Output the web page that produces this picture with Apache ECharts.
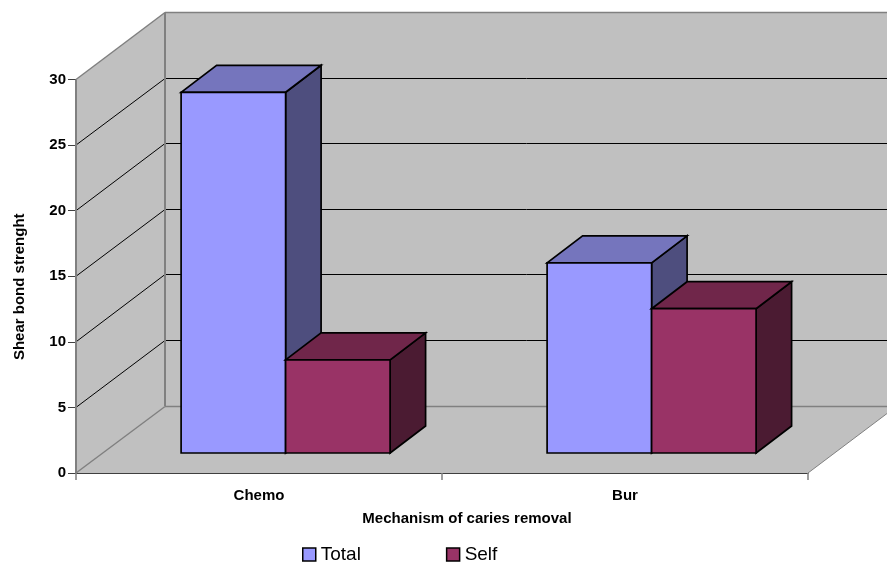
<!DOCTYPE html>
<html>
<head>
<meta charset="utf-8">
<style>html,body{margin:0;padding:0;background:#fff}#chart{width:887px;height:565px}</style>
<script src="https://cdn.jsdelivr.net/npm/echarts@6/dist/echarts.min.js"></script>
</head>
<body>
<div id="chart"></div>
<script>
// Shear bond strength by caries removal method
const categories = ['Chemo', 'Bur'];
const totalValues = [27.5, 14.5];
const selfValues = [7.1, 11];
const valueTicks = [0, 5, 10, 15, 20, 25, 30];

const FONT = '"Liberation Sans", Arial, sans-serif';
// Oblique projection of the 3D box, in pixels
const BOX_DX = 89, BOX_DY = -67;
const BAR_SHIFT_X = 26.6, BAR_SHIFT_Y = -20;
const BAR_DX = 35.5, BAR_DY = -27;
const BAR_BAND_RATIO = 0.2855;
const BAR_EDGE = 1.7;
const WALL = '#c0c0c0', WALL_EDGE = '#808080';

function poly(points, fill, stroke, width) {
  return { type: 'polygon', shape: { points },
    style: { fill, stroke, lineWidth: width, lineJoin: 'miter' } };
}
function seg(a, b, stroke, width) {
  return { type: 'line', shape: { x1: a[0], y1: a[1], x2: b[0], y2: b[1] },
    style: { stroke, lineWidth: width } };
}

// Side wall, back wall, floor and the gridlines that run across them
function renderBox(params, api) {
  const band = api.size([1, 0])[0];
  const x0 = api.coord([0, 0])[0] - band / 2;
  const x1 = x0 + band * categories.length;
  const y0 = api.coord([0, 0])[1];
  const yTop = api.coord([0, 30])[1];
  const kids = [
    poly([[x0, y0], [x0 + BOX_DX, y0 + BOX_DY], [x0 + BOX_DX, yTop + BOX_DY], [x0, yTop]], WALL),
    poly([[x0 + BOX_DX, y0 + BOX_DY], [x1 + BOX_DX, y0 + BOX_DY], [x1 + BOX_DX, yTop + BOX_DY], [x0 + BOX_DX, yTop + BOX_DY]], WALL),
    poly([[x0, y0], [x1, y0], [x1 + BOX_DX, y0 + BOX_DY], [x0 + BOX_DX, y0 + BOX_DY]], WALL)
  ];
  valueTicks.forEach(function (v) {
    const y = api.coord([0, v])[1];
    const edge = v === 0 || v === 30;
    const color = edge ? WALL_EDGE : '#000';
    const w = edge ? 1.5 : 1;
    // Snap the back-wall rule to the pixel grid so it stays one pixel thin
    const backY = Math.floor(y + BOX_DY) + 0.5;
    kids.push(seg([x0, y], [x0 + BOX_DX, backY], color, w));
    kids.push(seg([x0 + BOX_DX, backY], [x1 + BOX_DX, backY], color, w));
  });
  kids.push(seg([x0, y0], [x0, yTop], WALL_EDGE, 2));
  kids.push(seg([x0 + BOX_DX, y0 + BOX_DY], [x0 + BOX_DX, yTop + BOX_DY], WALL_EDGE, 2));
  kids.push(seg([x1, y0], [x1 + BOX_DX, y0 + BOX_DY], WALL_EDGE, 1));
  return { type: 'group', children: kids };
}

// One extruded bar: side and top faces behind, front face last
function barRenderer(side, colors) {
  return function (params, api) {
    const idx = api.value(0);
    const c = api.coord([idx, 0]);
    const top = api.coord([idx, api.value(1)])[1] + BAR_SHIFT_Y;
    const base = c[1] + BAR_SHIFT_Y;
    const w = api.size([1, 0])[0] * BAR_BAND_RATIO;
    const l = c[0] + BAR_SHIFT_X + (side < 0 ? -w : 0);
    const r = l + w;
    return { type: 'group', children: [
      poly([[r, base], [r + BAR_DX, base + BAR_DY], [r + BAR_DX, top + BAR_DY], [r, top]], colors.side, '#000', BAR_EDGE),
      poly([[l, top], [r, top], [r + BAR_DX, top + BAR_DY], [l + BAR_DX, top + BAR_DY]], colors.top, '#000', BAR_EDGE),
      poly([[l, base], [r, base], [r, top], [l, top]], colors.front, '#000', BAR_EDGE)
    ] };
  };
}
const totalColors = { front: '#9999ff', top: '#7575bd', side: '#4e4e7e' };
const selfColors = { front: '#993366', top: '#70264a', side: '#4b1b32' };

const chart = echarts.init(document.getElementById('chart'), null, { renderer: 'canvas' });
chart.setOption({
  animation: false,
  backgroundColor: '#fff',
  grid: { left: 76, top: 79.5, width: 732, height: 393.5 },
  legend: {
    left: 297, top: 540, itemWidth: 13, itemHeight: 13, itemGap: 85, icon: 'rect',
    data: ['Total', 'Self'],
    textStyle: { fontFamily: FONT, fontSize: 19, color: '#000' },
    itemStyle: { borderColor: '#000', borderWidth: 1.5 }
  },
  xAxis: {
    type: 'category', data: categories,
    name: 'Mechanism of caries removal', nameLocation: 'middle', nameGap: 38,
    nameTextStyle: { fontFamily: FONT, fontSize: 15, fontWeight: 'bold', color: '#000', padding: [0, 0, 0, 50] },
    axisLine: { lineStyle: { color: '#000', width: 1.5 } },
    axisTick: { show: true, length: 7, lineStyle: { color: '#808080', width: 1.5 } },
    axisLabel: { show: true, fontFamily: FONT, fontSize: 15, fontWeight: 'bold', color: '#000', margin: 15 }
  },
  yAxis: {
    type: 'value', min: 0, max: 30, interval: 5,
    name: 'Shear bond strenght', nameLocation: 'middle', nameGap: 49,
    nameTextStyle: { fontFamily: FONT, fontSize: 15, fontWeight: 'bold', color: '#000', padding: [0, 0, 0, -21] },
    axisLine: { show: false },
    axisTick: { show: true, length: 8, lineStyle: { color: '#404040', width: 1 } },
    splitLine: { show: false },
    axisLabel: { fontFamily: FONT, fontSize: 15, fontWeight: 'bold', color: '#000', margin: 10 }
  },
  series: [
    { type: 'custom', name: 'box', silent: true, z: 1, data: [[0, 0]], renderItem: renderBox, encode: { x: 0, y: 1 } },
    { type: 'custom', name: 'Total', z: 2, itemStyle: { color: totalColors.front },
      data: totalValues.map((v, i) => [i, v]), renderItem: barRenderer(-1, totalColors), encode: { x: 0, y: 1 } },
    { type: 'custom', name: 'Self', z: 3, itemStyle: { color: selfColors.front },
      data: selfValues.map((v, i) => [i, v]), renderItem: barRenderer(1, selfColors), encode: { x: 0, y: 1 } }
  ]
});
</script>
</body>
</html>
